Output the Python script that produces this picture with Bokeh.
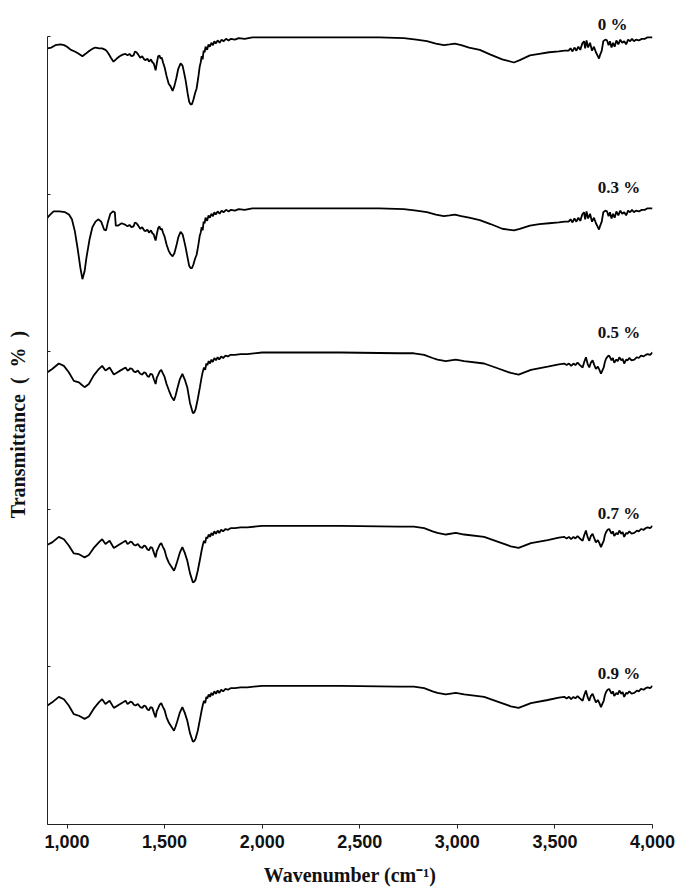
from bokeh.plotting import figure
from bokeh.models import Range1d, FixedTicker, NumeralTickFormatter, CustomJSTickFormatter, Label
from bokeh.embed import file_html
from bokeh.resources import INLINE
import numpy as np

# ---------------- data ----------------
series_names = ["0 %", "0.3 %", "0.5 %", "0.7 %", "0.9 %"]

wn_0 = [900, 920, 940, 967, 985, 1000, 1020, 1040, 1060, 1079,
        1095, 1115, 1135, 1146, 1165, 1180, 1197, 1205, 1213, 1225,
        1238, 1255, 1270, 1285, 1300, 1310, 1320, 1330, 1341, 1348,
        1356, 1365, 1375, 1385, 1395, 1403, 1412, 1420, 1430, 1438,
        1444, 1450, 1454, 1460, 1467, 1474, 1479, 1486, 1492, 1500,
        1510, 1521, 1530, 1541, 1550, 1560, 1570, 1582, 1592, 1600,
        1608, 1618, 1626, 1633, 1640, 1648, 1656, 1664, 1672, 1680,
        1685, 1690, 1695, 1700, 1705, 1710, 1718, 1725, 1732, 1740,
        1748, 1755, 1762, 1772, 1782, 1792, 1802, 1815, 1828, 1840,
        1860, 1880, 1910, 1950, 2000, 2300, 2600, 2726, 2790, 2844,
        2890, 2931, 2960, 2987, 3020, 3060, 3115, 3170, 3230, 3290,
        3320, 3372, 3420, 3470, 3520, 3550, 3570, 3580, 3590, 3600,
        3610, 3620, 3630, 3640, 3649, 3655, 3662, 3670, 3680, 3690,
        3700, 3710, 3718, 3726, 3732, 3740, 3748, 3758, 3767, 3775,
        3782, 3790, 3798, 3806, 3815, 3825, 3835, 3845, 3855, 3865,
        3875, 3885, 3895, 3905, 3915, 3930, 3945, 3960, 3975, 3990,
        4000]
t_0 = [98.5, 98.6, 98.9, 99.0, 98.9, 98.7, 98.3, 98.1, 97.8, 97.5,
       97.8, 98.2, 98.5, 98.6, 98.5, 98.5, 98.3, 98.1, 97.8, 97.3,
       96.8, 97.2, 97.5, 97.7, 97.8, 97.6, 97.8, 97.5, 97.6, 98.1,
       98.0, 97.7, 97.3, 97.5, 97.1, 97.0, 97.2, 96.8, 97.1, 96.7,
       96.6, 96.1, 95.7, 96.6, 97.5, 97.6, 97.2, 97.3, 96.7, 96.1,
       95.0, 94.0, 93.7, 93.1, 93.7, 94.7, 95.9, 96.6, 96.3, 95.4,
       94.4, 92.8, 91.7, 91.4, 91.4, 92.0, 92.8, 93.4, 94.7, 96.2,
       96.7, 97.5, 97.1, 98.2, 98.0, 98.7, 98.3, 99.0, 98.7, 99.2,
       98.9, 99.4, 99.1, 99.5, 99.2, 99.6, 99.4, 99.7, 99.5, 99.7,
       99.6, 99.8, 99.7, 99.9, 99.9, 99.9, 99.9, 99.8, 99.6, 99.4,
       99.1, 98.9, 99.0, 99.1, 98.9, 98.6, 98.3, 97.7, 97.1, 96.7,
       97.0, 97.6, 97.8, 98.0, 98.1, 98.2, 98.2, 98.5, 98.1, 98.6,
       98.2, 98.7, 98.3, 99.1, 99.4, 98.5, 99.5, 98.6, 99.2, 98.2,
       98.7, 98.0, 97.6, 97.2, 97.7, 98.2, 99.4, 99.6, 99.5, 98.9,
       99.4, 98.6, 99.2, 98.7, 99.5, 99.0, 99.6, 99.2, 99.4, 99.0,
       99.6, 99.4, 99.7, 99.4, 99.6, 99.5, 99.7, 99.7, 99.9, 99.9,
       99.9]

wn_1 = [900, 910, 931, 960, 990, 1010, 1025, 1040, 1055, 1068,
        1079, 1090, 1100, 1115, 1130, 1146, 1160, 1175, 1190, 1200,
        1210, 1222, 1235, 1245, 1250, 1262, 1280, 1300, 1310, 1320,
        1330, 1341, 1348, 1356, 1365, 1375, 1385, 1395, 1403, 1412,
        1420, 1430, 1438, 1444, 1450, 1454, 1460, 1467, 1474, 1479,
        1486, 1492, 1500, 1510, 1521, 1530, 1541, 1550, 1560, 1570,
        1582, 1592, 1600, 1608, 1618, 1626, 1633, 1640, 1648, 1656,
        1664, 1672, 1680, 1685, 1690, 1695, 1700, 1705, 1710, 1718,
        1725, 1732, 1740, 1748, 1755, 1762, 1772, 1782, 1792, 1802,
        1815, 1828, 1840, 1860, 1880, 1910, 1950, 2000, 2300, 2600,
        2726, 2790, 2844, 2890, 2931, 2960, 2987, 3020, 3060, 3115,
        3170, 3230, 3290, 3320, 3372, 3420, 3470, 3520, 3550, 3570,
        3580, 3590, 3600, 3610, 3620, 3630, 3640, 3649, 3655, 3662,
        3670, 3680, 3690, 3700, 3710, 3718, 3726, 3732, 3740, 3748,
        3758, 3767, 3775, 3782, 3790, 3798, 3806, 3815, 3825, 3835,
        3845, 3855, 3865, 3875, 3885, 3895, 3905, 3915, 3930, 3945,
        3960, 3975, 3990, 4000]
t_1 = [98.7, 99.0, 99.5, 99.5, 99.4, 99.1, 98.5, 97.0, 94.7, 92.4,
       90.9, 91.9, 93.7, 95.9, 97.5, 98.2, 98.5, 98.2, 97.2, 97.1,
       98.2, 99.2, 99.5, 99.4, 97.7, 97.7, 98.0, 97.8, 97.6, 97.8,
       97.5, 97.6, 98.1, 98.0, 97.7, 97.3, 97.5, 97.1, 97.0, 97.2,
       96.8, 97.1, 96.7, 96.6, 96.1, 95.8, 96.6, 97.4, 97.6, 97.2,
       97.3, 96.8, 96.3, 95.3, 94.5, 94.1, 93.8, 94.2, 95.1, 96.2,
       96.9, 96.6, 95.8, 94.9, 93.6, 92.6, 92.3, 92.3, 92.8, 93.5,
       94.0, 95.1, 96.4, 96.8, 97.5, 97.1, 98.2, 98.0, 98.7, 98.3,
       99.0, 98.7, 99.2, 98.9, 99.4, 99.1, 99.5, 99.2, 99.6, 99.4,
       99.7, 99.5, 99.7, 99.6, 99.8, 99.7, 99.9, 99.9, 99.9, 99.9,
       99.8, 99.6, 99.4, 99.1, 98.9, 99.0, 99.1, 98.9, 98.7, 98.4,
       97.9, 97.3, 97.1, 97.3, 97.7, 97.9, 98.0, 98.1, 98.2, 98.2,
       98.5, 98.1, 98.6, 98.2, 98.7, 98.3, 99.1, 99.4, 98.5, 99.5,
       98.6, 99.2, 98.2, 98.7, 98.0, 97.6, 97.2, 97.7, 98.2, 99.4,
       99.6, 99.5, 98.9, 99.4, 98.6, 99.2, 98.7, 99.5, 99.0, 99.6,
       99.2, 99.4, 99.0, 99.6, 99.4, 99.7, 99.4, 99.6, 99.5, 99.7,
       99.7, 99.9, 99.9, 99.9]

wn_b = [900, 924, 958, 984, 1009, 1035, 1061, 1075, 1090, 1112,
        1137, 1163, 1180, 1197, 1218, 1240, 1266, 1300, 1310, 1317,
        1325, 1334, 1342, 1351, 1363, 1375, 1386, 1395, 1403, 1412,
        1420, 1428, 1437, 1445, 1454, 1460, 1466, 1475, 1483, 1490,
        1500, 1510, 1522, 1535, 1548, 1556, 1565, 1578, 1591, 1603,
        1616, 1630, 1645, 1652, 1659, 1670, 1681, 1690, 1696, 1702,
        1708, 1714, 1719, 1726, 1733, 1740, 1747, 1755, 1763, 1772,
        1780, 1790, 1800, 1812, 1825, 1838, 1860, 1890, 1924, 2000,
        2400, 2700, 2777, 2830, 2873, 2898, 2941, 2992, 3035, 3137,
        3206, 3274, 3314, 3377, 3463, 3520, 3548, 3560, 3572, 3583,
        3595, 3605, 3616, 3628, 3642, 3650, 3659, 3667, 3676, 3684,
        3693, 3702, 3710, 3720, 3728, 3736, 3743, 3750, 3756, 3762,
        3770, 3778, 3790, 3797, 3804, 3815, 3822, 3830, 3840, 3847,
        3855, 3865, 3872, 3881, 3893, 3907, 3920, 3930, 3941, 3955,
        3965, 3975, 3988, 4000]
t_2 = [97.5, 97.9, 98.6, 98.3, 97.5, 96.4, 96.2, 95.9, 95.6, 96.0,
       97.1, 97.9, 98.3, 97.7, 98.1, 97.2, 97.6, 98.1, 97.7, 97.8,
       98.0, 97.9, 97.6, 97.5, 97.7, 97.3, 97.2, 97.5, 97.4, 97.0,
       96.9, 97.3, 97.2, 96.6, 96.0, 96.8, 97.1, 97.6, 97.8, 97.4,
       96.9, 96.0, 95.2, 94.4, 93.9, 94.5, 95.4, 96.6, 97.3, 96.6,
       95.6, 93.6, 92.3, 92.4, 92.8, 94.1, 95.6, 96.9, 97.6, 98.1,
       97.8, 98.6, 98.4, 98.9, 98.6, 99.1, 98.8, 99.3, 99.0, 99.4,
       99.1, 99.5, 99.3, 99.6, 99.5, 99.7, 99.7, 99.8, 99.8, 100.0,
       100.0, 99.9, 99.9, 99.7, 99.3, 99.1, 98.9, 99.1, 98.9, 98.6,
       98.0, 97.4, 97.2, 97.8, 98.2, 98.5, 98.6, 98.4, 98.6, 98.3,
       98.6, 98.4, 98.7, 98.4, 98.1, 98.8, 99.4, 98.6, 98.1, 98.7,
       99.0, 98.4, 97.9, 98.2, 97.8, 97.3, 97.7, 98.1, 98.8, 99.2,
       99.5, 99.6, 99.0, 99.3, 98.7, 99.1, 98.9, 99.4, 99.0, 99.2,
       98.6, 99.1, 99.0, 99.3, 99.0, 99.1, 99.4, 99.3, 99.6, 99.5,
       99.7, 99.8, 99.7, 100.0]
t_3 = [97.6, 97.9, 98.6, 98.3, 97.5, 96.5, 96.4, 96.2, 96.0, 96.3,
       97.2, 97.9, 98.3, 97.7, 98.1, 97.2, 97.6, 98.1, 97.7, 97.8,
       98.0, 97.9, 97.6, 97.5, 97.7, 97.3, 97.2, 97.5, 97.4, 97.0,
       96.9, 97.3, 97.2, 96.6, 96.0, 96.8, 97.1, 97.6, 97.8, 97.4,
       96.9, 96.0, 95.3, 94.8, 94.3, 94.8, 95.5, 96.6, 97.3, 96.6,
       95.6, 94.0, 92.8, 92.9, 93.2, 94.3, 95.7, 96.9, 97.6, 98.1,
       97.8, 98.6, 98.4, 98.9, 98.6, 99.1, 98.8, 99.3, 99.0, 99.4,
       99.1, 99.5, 99.3, 99.6, 99.5, 99.7, 99.7, 99.8, 99.8, 100.0,
       100.0, 99.9, 99.9, 99.7, 99.3, 99.1, 98.9, 99.1, 98.9, 98.6,
       98.0, 97.4, 97.2, 97.8, 98.2, 98.5, 98.6, 98.4, 98.6, 98.3,
       98.6, 98.4, 98.7, 98.4, 98.1, 98.8, 99.4, 98.6, 98.1, 98.7,
       99.0, 98.4, 97.9, 98.2, 97.8, 97.3, 97.7, 98.1, 98.8, 99.2,
       99.5, 99.6, 99.0, 99.3, 98.7, 99.1, 98.9, 99.4, 99.0, 99.2,
       98.6, 99.1, 99.0, 99.3, 99.0, 99.1, 99.4, 99.3, 99.6, 99.5,
       99.7, 99.8, 99.7, 100.0]
t_4 = [97.5, 97.9, 98.6, 98.3, 97.5, 96.4, 96.2, 96.0, 95.8, 96.1,
       97.1, 97.9, 98.3, 97.7, 98.1, 97.2, 97.6, 98.1, 97.7, 97.8,
       98.0, 97.9, 97.6, 97.5, 97.7, 97.3, 97.2, 97.5, 97.4, 97.0,
       96.9, 97.3, 97.2, 96.6, 96.0, 96.8, 97.1, 97.6, 97.8, 97.4,
       96.9, 96.0, 95.3, 94.8, 94.3, 94.8, 95.5, 96.6, 97.3, 96.6,
       95.6, 94.0, 92.9, 93.0, 93.3, 94.3, 95.7, 96.9, 97.6, 98.1,
       97.8, 98.6, 98.4, 98.9, 98.6, 99.1, 98.8, 99.3, 99.0, 99.4,
       99.1, 99.5, 99.3, 99.6, 99.5, 99.7, 99.7, 99.8, 99.8, 100.0,
       100.0, 99.9, 99.9, 99.7, 99.3, 99.1, 98.9, 99.1, 98.9, 98.6,
       98.0, 97.4, 97.2, 97.8, 98.2, 98.5, 98.6, 98.4, 98.6, 98.3,
       98.6, 98.4, 98.7, 98.4, 98.1, 98.8, 99.4, 98.6, 98.1, 98.7,
       99.0, 98.4, 97.9, 98.2, 97.8, 97.3, 97.7, 98.1, 98.8, 99.2,
       99.5, 99.6, 99.0, 99.3, 98.7, 99.1, 98.9, 99.4, 99.0, 99.2,
       98.6, 99.1, 99.0, 99.3, 99.0, 99.1, 99.4, 99.3, 99.6, 99.5,
       99.7, 99.8, 99.7, 100.0]

x_ticks = [1000, 1500, 2000, 2500, 3000, 3500, 4000]
y_ticks = [0, 20, 40, 60, 80, 100]

# ---------------- layout (display offsets, label placement) ----------------
stack_shift = [0.0, 21.7, 40.1, 62.1, 82.4]
label_x = 3720
label_y = [101.5, 80.8, 62.4, 39.5, 19.2]

p = figure(width=676, height=889,
           x_range=Range1d(900, 4000), y_range=Range1d(0, 104.06),
           output_backend="svg", toolbar_location=None,
           min_border_left=47, min_border_right=24,
           min_border_top=4, min_border_bottom=65)
p.outline_line_color = None
p.xgrid.visible = False
p.ygrid.visible = False
p.background_fill_color = "white"
p.border_fill_color = "white"

# x axis
xa = p.xaxis[0]
xa.ticker = FixedTicker(ticks=x_ticks, minor_ticks=[])
xa.formatter = NumeralTickFormatter(format="0,0")
xa.major_tick_out = 4
xa.major_tick_in = 0
xa.minor_tick_line_color = None
xa.axis_line_color = "#222222"
xa.major_tick_line_color = "#222222"
xa.major_label_text_font = "Liberation Sans"
xa.major_label_text_font_style = "bold"
xa.major_label_text_font_size = "18px"
xa.major_label_text_color = "#111111"
xa.major_label_standoff = 6
xa.axis_label = "Wavenumber (cm\u207b\u00b9)"
xa.axis_label_text_font = "Liberation Serif"
xa.axis_label_text_font_style = "bold"
xa.axis_label_text_font_size = "20px"
xa.axis_label_text_color = "#111111"
xa.axis_label_standoff = 13

# y axis
ya = p.yaxis[0]
ya.ticker = FixedTicker(ticks=y_ticks, minor_ticks=[])
ya.formatter = CustomJSTickFormatter(code="return ''")
ya.bounds = (0, 100)
ya.major_tick_out = 0
ya.major_tick_in = 3
ya.minor_tick_line_color = None
ya.axis_line_color = "#222222"
ya.major_tick_line_color = "#222222"
ya.major_label_standoff = 0
ya.axis_label = "Transmittance\u2002(\u2002%\u2002)\u2003"
ya.axis_label_text_font = "Liberation Serif"
ya.axis_label_text_font_style = "bold"
ya.axis_label_text_font_size = "20px"
ya.axis_label_text_color = "#111111"
ya.axis_label_standoff = 19

all_wn = [wn_0, wn_1, wn_b, wn_b, wn_b]
all_t = [t_0, t_1, t_2, t_3, t_4]
for wn, t, s in zip(all_wn, all_t, stack_shift):
    p.line(wn, np.array(t) - s, line_color="black", line_width=1.8)

for name, ly in zip(series_names, label_y):
    p.add_layout(Label(x=label_x, y=ly, text=name,
                       text_font="Liberation Serif", text_font_style="bold",
                       text_font_size="17px", text_color="#111111",
                       text_align="left", text_baseline="alphabetic"))

open("out.html", "w").write(file_html(p, INLINE))
